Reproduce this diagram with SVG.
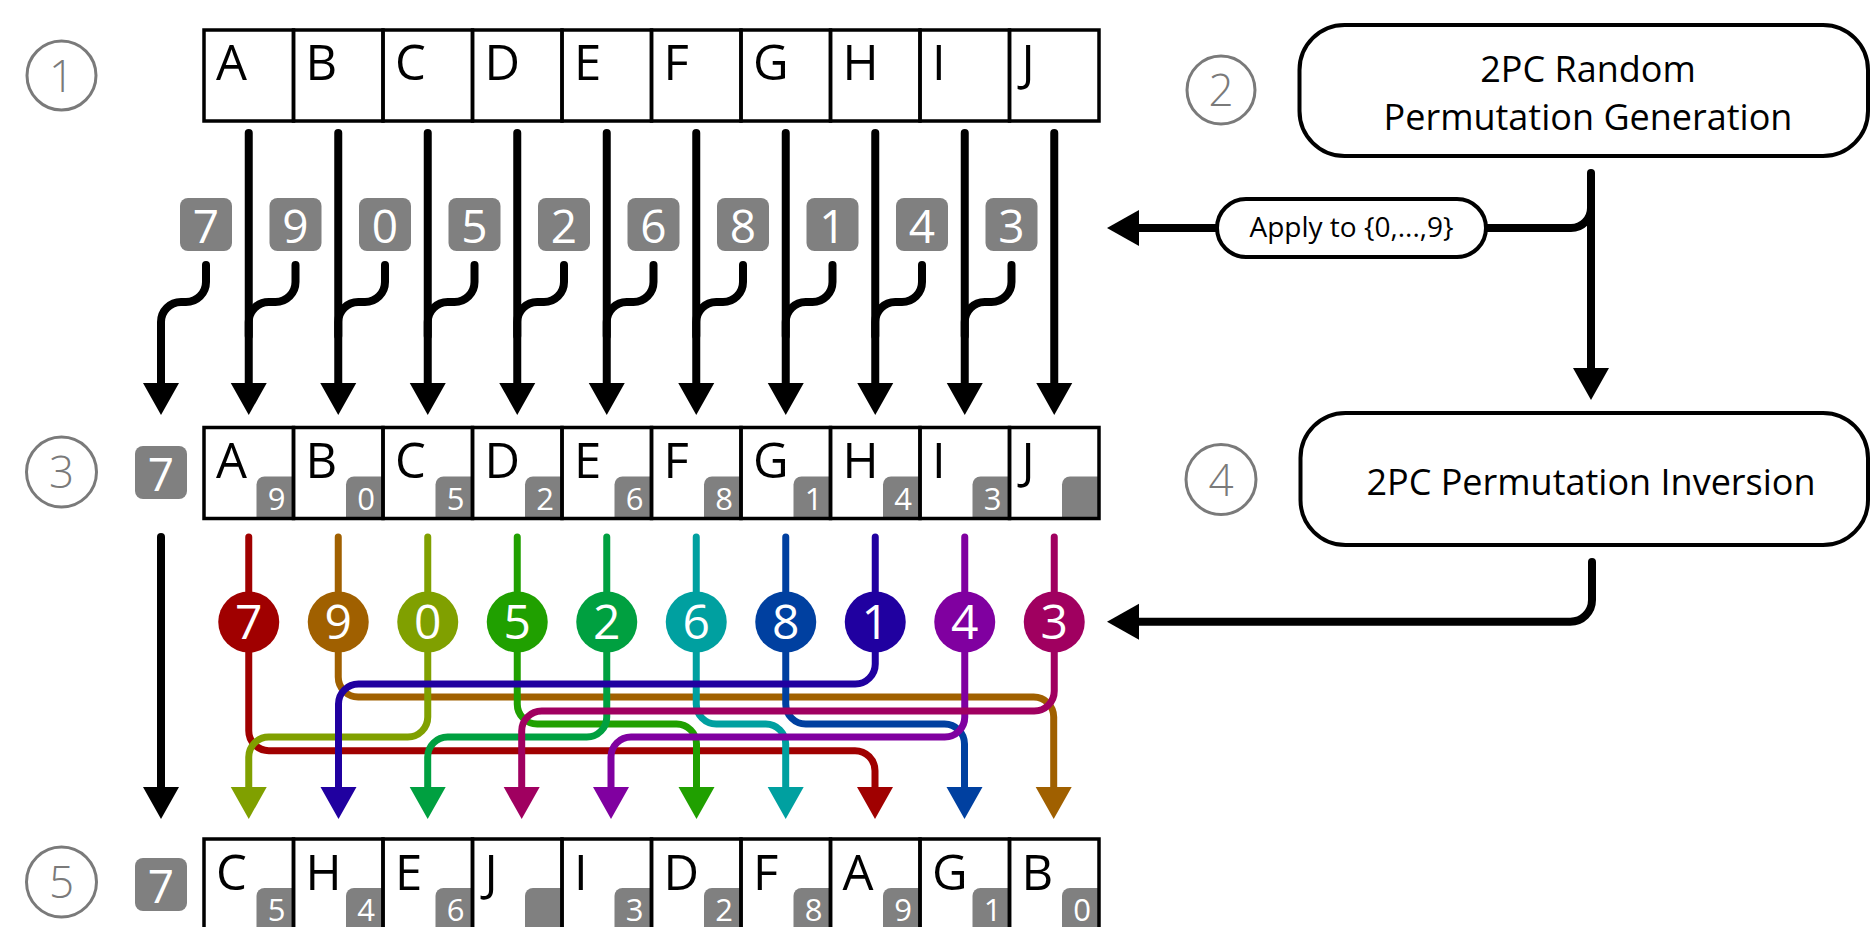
<svg xmlns="http://www.w3.org/2000/svg" width="1872" height="927" viewBox="0 0 1872 927">
<style>
text{font-family:"Open Sans","Liberation Sans",sans-serif}
.cell{fill:none;stroke:#000;stroke-width:3.5}
.let{font-size:49px;fill:#000}
.sb{fill:#808080}
.sbt{font-size:31px;fill:#fff;text-anchor:middle}
.bd{fill:#808080}
.bdt{font-size:46px;fill:#fff;text-anchor:middle}
.num{fill:none;stroke:#7a7a7a;stroke-width:3}
.numt{font-size:44px;fill:#7a7a7a;text-anchor:middle;font-weight:300}
.blk{fill:none;stroke:#000;stroke-width:8;stroke-linecap:round}
.col{fill:none;stroke-width:7;stroke-linecap:round;stroke-linejoin:round}
.ct{font-size:48px;fill:#fff;text-anchor:middle}
.box{fill:#fff;stroke:#000;stroke-width:4}
.bt{font-size:36px;fill:#000;text-anchor:middle}
</style>
<defs>
<marker id="mk" markerUnits="userSpaceOnUse" markerWidth="33" markerHeight="37" viewBox="0 0 33 37" refX="1" refY="18.5" orient="auto"><path d="M0 0.5L32 18.5L0 36.5Z" fill="#000"/></marker>
<marker id="m0" markerUnits="userSpaceOnUse" markerWidth="33" markerHeight="37" viewBox="0 0 33 37" refX="1" refY="18.5" orient="auto"><path d="M0 0.5L32 18.5L0 36.5Z" fill="#a00000"/></marker>
<marker id="m1" markerUnits="userSpaceOnUse" markerWidth="33" markerHeight="37" viewBox="0 0 33 37" refX="1" refY="18.5" orient="auto"><path d="M0 0.5L32 18.5L0 36.5Z" fill="#a06000"/></marker>
<marker id="m2" markerUnits="userSpaceOnUse" markerWidth="33" markerHeight="37" viewBox="0 0 33 37" refX="1" refY="18.5" orient="auto"><path d="M0 0.5L32 18.5L0 36.5Z" fill="#80a000"/></marker>
<marker id="m3" markerUnits="userSpaceOnUse" markerWidth="33" markerHeight="37" viewBox="0 0 33 37" refX="1" refY="18.5" orient="auto"><path d="M0 0.5L32 18.5L0 36.5Z" fill="#20a000"/></marker>
<marker id="m4" markerUnits="userSpaceOnUse" markerWidth="33" markerHeight="37" viewBox="0 0 33 37" refX="1" refY="18.5" orient="auto"><path d="M0 0.5L32 18.5L0 36.5Z" fill="#00a040"/></marker>
<marker id="m5" markerUnits="userSpaceOnUse" markerWidth="33" markerHeight="37" viewBox="0 0 33 37" refX="1" refY="18.5" orient="auto"><path d="M0 0.5L32 18.5L0 36.5Z" fill="#00a0a0"/></marker>
<marker id="m6" markerUnits="userSpaceOnUse" markerWidth="33" markerHeight="37" viewBox="0 0 33 37" refX="1" refY="18.5" orient="auto"><path d="M0 0.5L32 18.5L0 36.5Z" fill="#0040a0"/></marker>
<marker id="m7" markerUnits="userSpaceOnUse" markerWidth="33" markerHeight="37" viewBox="0 0 33 37" refX="1" refY="18.5" orient="auto"><path d="M0 0.5L32 18.5L0 36.5Z" fill="#2000a0"/></marker>
<marker id="m8" markerUnits="userSpaceOnUse" markerWidth="33" markerHeight="37" viewBox="0 0 33 37" refX="1" refY="18.5" orient="auto"><path d="M0 0.5L32 18.5L0 36.5Z" fill="#8000a0"/></marker>
<marker id="m9" markerUnits="userSpaceOnUse" markerWidth="33" markerHeight="37" viewBox="0 0 33 37" refX="1" refY="18.5" orient="auto"><path d="M0 0.5L32 18.5L0 36.5Z" fill="#a00060"/></marker>
</defs>
<rect width="1872" height="927" fill="#fff"/>

<!-- step numbers -->
<g id="step1"><circle class="num" cx="61.5" cy="75.5" r="34.5"/><text class="numt" x="61.5" y="91.5">1</text></g>
<g id="step2"><circle class="num" cx="1221" cy="90" r="34"/><text class="numt" x="1221" y="106">2</text></g>
<g id="step3"><circle class="num" cx="61.5" cy="472" r="35"/><text class="numt" x="61.5" y="488">3</text></g>
<g id="step4"><circle class="num" cx="1221" cy="479.5" r="35"/><text class="numt" x="1221" y="495.5">4</text></g>
<g id="step5"><circle class="num" cx="61.5" cy="882" r="35"/><text class="numt" x="61.5" y="898">5</text></g>

<!-- connectors -->
<g id="connectors">
<g id="top-lines">
<path class="blk" d="M248.75 133V384" marker-end="url(#mk)"/>
<path class="blk" d="M338.25 133V384" marker-end="url(#mk)"/>
<path class="blk" d="M427.75 133V384" marker-end="url(#mk)"/>
<path class="blk" d="M517.25 133V384" marker-end="url(#mk)"/>
<path class="blk" d="M606.75 133V384" marker-end="url(#mk)"/>
<path class="blk" d="M696.25 133V384" marker-end="url(#mk)"/>
<path class="blk" d="M785.75 133V384" marker-end="url(#mk)"/>
<path class="blk" d="M875.25 133V384" marker-end="url(#mk)"/>
<path class="blk" d="M964.75 133V384" marker-end="url(#mk)"/>
<path class="blk" d="M1054.25 133V384" marker-end="url(#mk)"/>
</g>
<g id="badge-links">
<path class="blk" d="M206 265V282A20 20 0 0 1 186 302H181A20 20 0 0 0 161 322V384" marker-end="url(#mk)"/>
<path class="blk" d="M295.5 265V282A20 20 0 0 1 275.5 302H268.75A20 20 0 0 0 248.75 322V336"/>
<path class="blk" d="M385 265V282A20 20 0 0 1 365 302H358.25A20 20 0 0 0 338.25 322V336"/>
<path class="blk" d="M474.5 265V282A20 20 0 0 1 454.5 302H447.75A20 20 0 0 0 427.75 322V336"/>
<path class="blk" d="M564 265V282A20 20 0 0 1 544 302H537.25A20 20 0 0 0 517.25 322V336"/>
<path class="blk" d="M653.5 265V282A20 20 0 0 1 633.5 302H626.75A20 20 0 0 0 606.75 322V336"/>
<path class="blk" d="M743 265V282A20 20 0 0 1 723 302H716.25A20 20 0 0 0 696.25 322V336"/>
<path class="blk" d="M832.5 265V282A20 20 0 0 1 812.5 302H805.75A20 20 0 0 0 785.75 322V336"/>
<path class="blk" d="M922 265V282A20 20 0 0 1 902 302H895.25A20 20 0 0 0 875.25 322V336"/>
<path class="blk" d="M1011.5 265V282A20 20 0 0 1 991.5 302H984.75A20 20 0 0 0 964.75 322V336"/>
</g>
<path id="left-line" class="blk" d="M161 537V788" marker-end="url(#mk)"/>
<g id="perm-lines">
<path class="col" stroke="#a00000" d="M248.75 537V730.7A20 20 0 0 0 268.75 750.7H855A20 20 0 0 1 875 770.7V788" marker-end="url(#m0)"/>
<path class="col" stroke="#a06000" d="M338.25 537V677A20 20 0 0 0 358.25 697H1033.7A20 20 0 0 1 1053.7 717V788" marker-end="url(#m1)"/>
<path class="col" stroke="#80a000" d="M427.75 537V717A20 20 0 0 1 407.75 737H268.75A20 20 0 0 0 248.75 757V788" marker-end="url(#m2)"/>
<path class="col" stroke="#20a000" d="M517.25 537V704A20 20 0 0 0 537.25 724H676.5A20 20 0 0 1 696.5 744V788" marker-end="url(#m3)"/>
<path class="col" stroke="#00a040" d="M606.75 537V717A20 20 0 0 1 586.75 737H447.7A20 20 0 0 0 427.7 757V788" marker-end="url(#m4)"/>
<path class="col" stroke="#00a0a0" d="M696.25 537V704A20 20 0 0 0 716.25 724H765.7A20 20 0 0 1 785.7 744V788" marker-end="url(#m5)"/>
<path class="col" stroke="#0040a0" d="M785.75 537V704A20 20 0 0 0 805.75 724H944.5A20 20 0 0 1 964.5 744V788" marker-end="url(#m6)"/>
<path class="col" stroke="#2000a0" d="M875.25 537V664A20 20 0 0 1 855.25 684H358.5A20 20 0 0 0 338.5 704V788" marker-end="url(#m7)"/>
<path class="col" stroke="#8000a0" d="M964.75 537V717A20 20 0 0 1 944.75 737H631A20 20 0 0 0 611 757V788" marker-end="url(#m8)"/>
<path class="col" stroke="#a00060" d="M1054.25 537V691A20 20 0 0 1 1034.25 711H541.7A20 20 0 0 0 521.7 731V788" marker-end="url(#m9)"/>
</g>
<g id="right-links">
<path class="blk" d="M1591 173V369" marker-end="url(#mk)"/>
<path class="blk" d="M1591 190V208A20 20 0 0 1 1571 228H1486"/>
<path class="blk" d="M1217 228H1138" marker-end="url(#mk)"/>
<path class="blk" d="M1592 562V600A21.7 21.7 0 0 1 1570.3 621.7H1138" marker-end="url(#mk)"/>
</g>
</g>

<!-- colored label circles -->
<g id="perm-circles">
<g id="pc-A"><circle cx="248.75" cy="622" r="30.5" fill="#a00000"/><text class="ct" x="248.75" y="639">7</text></g>
<g id="pc-B"><circle cx="338.25" cy="622" r="30.5" fill="#a06000"/><text class="ct" x="338.25" y="639">9</text></g>
<g id="pc-C"><circle cx="427.75" cy="622" r="30.5" fill="#80a000"/><text class="ct" x="427.75" y="639">0</text></g>
<g id="pc-D"><circle cx="517.25" cy="622" r="30.5" fill="#20a000"/><text class="ct" x="517.25" y="639">5</text></g>
<g id="pc-E"><circle cx="606.75" cy="622" r="30.5" fill="#00a040"/><text class="ct" x="606.75" y="639">2</text></g>
<g id="pc-F"><circle cx="696.25" cy="622" r="30.5" fill="#00a0a0"/><text class="ct" x="696.25" y="639">6</text></g>
<g id="pc-G"><circle cx="785.75" cy="622" r="30.5" fill="#0040a0"/><text class="ct" x="785.75" y="639">8</text></g>
<g id="pc-H"><circle cx="875.25" cy="622" r="30.5" fill="#2000a0"/><text class="ct" x="875.25" y="639">1</text></g>
<g id="pc-I"><circle cx="964.75" cy="622" r="30.5" fill="#8000a0"/><text class="ct" x="964.75" y="639">4</text></g>
<g id="pc-J"><circle cx="1054.25" cy="622" r="30.5" fill="#a00060"/><text class="ct" x="1054.25" y="639">3</text></g>
</g>

<!-- top badges -->
<g id="top-badges">
<g id="tb0"><rect class="bd" x="180" y="198" width="52" height="53" rx="8"/><text class="bdt" x="206" y="242.5">7</text></g>
<g id="tb1"><rect class="bd" x="269.5" y="198" width="52" height="53" rx="8"/><text class="bdt" x="295.5" y="242.5">9</text></g>
<g id="tb2"><rect class="bd" x="359" y="198" width="52" height="53" rx="8"/><text class="bdt" x="385" y="242.5">0</text></g>
<g id="tb3"><rect class="bd" x="448.5" y="198" width="52" height="53" rx="8"/><text class="bdt" x="474.5" y="242.5">5</text></g>
<g id="tb4"><rect class="bd" x="538" y="198" width="52" height="53" rx="8"/><text class="bdt" x="564" y="242.5">2</text></g>
<g id="tb5"><rect class="bd" x="627.5" y="198" width="52" height="53" rx="8"/><text class="bdt" x="653.5" y="242.5">6</text></g>
<g id="tb6"><rect class="bd" x="717" y="198" width="52" height="53" rx="8"/><text class="bdt" x="743" y="242.5">8</text></g>
<g id="tb7"><rect class="bd" x="806.5" y="198" width="52" height="53" rx="8"/><text class="bdt" x="832.5" y="242.5">1</text></g>
<g id="tb8"><rect class="bd" x="896" y="198" width="52" height="53" rx="8"/><text class="bdt" x="922" y="242.5">4</text></g>
<g id="tb9"><rect class="bd" x="985.5" y="198" width="52" height="53" rx="8"/><text class="bdt" x="1011.5" y="242.5">3</text></g>
</g>
<g id="row3-badge"><rect class="bd" x="135" y="446" width="52" height="53" rx="8"/><text class="bdt" x="161" y="490.5">7</text></g>
<g id="row5-badge"><rect class="bd" x="135" y="858" width="52" height="53" rx="8"/><text class="bdt" x="161" y="902.5">7</text></g>

<!-- row 1 -->
<g id="row1">
<g id="r1-A"><rect class="cell" x="204" y="30" width="89.5" height="91"/><text class="let" x="216" y="80">A</text></g>
<g id="r1-B"><rect class="cell" x="293.5" y="30" width="89.5" height="91"/><text class="let" x="305.5" y="80">B</text></g>
<g id="r1-C"><rect class="cell" x="383" y="30" width="89.5" height="91"/><text class="let" x="395" y="80">C</text></g>
<g id="r1-D"><rect class="cell" x="472.5" y="30" width="89.5" height="91"/><text class="let" x="484.5" y="80">D</text></g>
<g id="r1-E"><rect class="cell" x="562" y="30" width="89.5" height="91"/><text class="let" x="574" y="80">E</text></g>
<g id="r1-F"><rect class="cell" x="651.5" y="30" width="89.5" height="91"/><text class="let" x="663.5" y="80">F</text></g>
<g id="r1-G"><rect class="cell" x="741" y="30" width="89.5" height="91"/><text class="let" x="753" y="80">G</text></g>
<g id="r1-H"><rect class="cell" x="830.5" y="30" width="89.5" height="91"/><text class="let" x="842.5" y="80">H</text></g>
<g id="r1-I"><rect class="cell" x="920" y="30" width="89.5" height="91"/><text class="let" x="932" y="80">I</text></g>
<g id="r1-J"><rect class="cell" x="1009.5" y="30" width="89.5" height="91"/><text class="let" x="1021.5" y="80">J</text></g>
</g>

<!-- row 3 -->
<g id="row3">
<g id="r3-A"><path class="sb" d="M256.5 484.5A8 8 0 0 1 264.5 476.5H293.5V518.5H256.5Z"/><text class="sbt" x="276.5" y="509.5">9</text><rect class="cell" x="204" y="427.5" width="89.5" height="91"/><text class="let" x="216" y="477.5">A</text></g>
<g id="r3-B"><path class="sb" d="M346 484.5A8 8 0 0 1 354 476.5H383V518.5H346Z"/><text class="sbt" x="366" y="509.5">0</text><rect class="cell" x="293.5" y="427.5" width="89.5" height="91"/><text class="let" x="305.5" y="477.5">B</text></g>
<g id="r3-C"><path class="sb" d="M435.5 484.5A8 8 0 0 1 443.5 476.5H472.5V518.5H435.5Z"/><text class="sbt" x="455.5" y="509.5">5</text><rect class="cell" x="383" y="427.5" width="89.5" height="91"/><text class="let" x="395" y="477.5">C</text></g>
<g id="r3-D"><path class="sb" d="M525 484.5A8 8 0 0 1 533 476.5H562V518.5H525Z"/><text class="sbt" x="545" y="509.5">2</text><rect class="cell" x="472.5" y="427.5" width="89.5" height="91"/><text class="let" x="484.5" y="477.5">D</text></g>
<g id="r3-E"><path class="sb" d="M614.5 484.5A8 8 0 0 1 622.5 476.5H651.5V518.5H614.5Z"/><text class="sbt" x="634.5" y="509.5">6</text><rect class="cell" x="562" y="427.5" width="89.5" height="91"/><text class="let" x="574" y="477.5">E</text></g>
<g id="r3-F"><path class="sb" d="M704 484.5A8 8 0 0 1 712 476.5H741V518.5H704Z"/><text class="sbt" x="724" y="509.5">8</text><rect class="cell" x="651.5" y="427.5" width="89.5" height="91"/><text class="let" x="663.5" y="477.5">F</text></g>
<g id="r3-G"><path class="sb" d="M793.5 484.5A8 8 0 0 1 801.5 476.5H830.5V518.5H793.5Z"/><text class="sbt" x="813.5" y="509.5">1</text><rect class="cell" x="741" y="427.5" width="89.5" height="91"/><text class="let" x="753" y="477.5">G</text></g>
<g id="r3-H"><path class="sb" d="M883 484.5A8 8 0 0 1 891 476.5H920V518.5H883Z"/><text class="sbt" x="903" y="509.5">4</text><rect class="cell" x="830.5" y="427.5" width="89.5" height="91"/><text class="let" x="842.5" y="477.5">H</text></g>
<g id="r3-I"><path class="sb" d="M972.5 484.5A8 8 0 0 1 980.5 476.5H1009.5V518.5H972.5Z"/><text class="sbt" x="992.5" y="509.5">3</text><rect class="cell" x="920" y="427.5" width="89.5" height="91"/><text class="let" x="932" y="477.5">I</text></g>
<g id="r3-J"><path class="sb" d="M1062 484.5A8 8 0 0 1 1070 476.5H1099V518.5H1062Z"/><rect class="cell" x="1009.5" y="427.5" width="89.5" height="91"/><text class="let" x="1021.5" y="477.5">J</text></g>
</g>

<!-- row 5 -->
<g id="row5">
<g id="r5-0"><path class="sb" d="M256.5 896A8 8 0 0 1 264.5 888H293.5V930H256.5Z"/><text class="sbt" x="276.5" y="921">5</text><rect class="cell" x="204" y="839" width="89.5" height="91"/><text class="let" x="216" y="890">C</text></g>
<g id="r5-1"><path class="sb" d="M346 896A8 8 0 0 1 354 888H383V930H346Z"/><text class="sbt" x="366" y="921">4</text><rect class="cell" x="293.5" y="839" width="89.5" height="91"/><text class="let" x="305.5" y="890">H</text></g>
<g id="r5-2"><path class="sb" d="M435.5 896A8 8 0 0 1 443.5 888H472.5V930H435.5Z"/><text class="sbt" x="455.5" y="921">6</text><rect class="cell" x="383" y="839" width="89.5" height="91"/><text class="let" x="395" y="890">E</text></g>
<g id="r5-3"><path class="sb" d="M525 896A8 8 0 0 1 533 888H562V930H525Z"/><rect class="cell" x="472.5" y="839" width="89.5" height="91"/><text class="let" x="484.5" y="890">J</text></g>
<g id="r5-4"><path class="sb" d="M614.5 896A8 8 0 0 1 622.5 888H651.5V930H614.5Z"/><text class="sbt" x="634.5" y="921">3</text><rect class="cell" x="562" y="839" width="89.5" height="91"/><text class="let" x="574" y="890">I</text></g>
<g id="r5-5"><path class="sb" d="M704 896A8 8 0 0 1 712 888H741V930H704Z"/><text class="sbt" x="724" y="921">2</text><rect class="cell" x="651.5" y="839" width="89.5" height="91"/><text class="let" x="663.5" y="890">D</text></g>
<g id="r5-6"><path class="sb" d="M793.5 896A8 8 0 0 1 801.5 888H830.5V930H793.5Z"/><text class="sbt" x="813.5" y="921">8</text><rect class="cell" x="741" y="839" width="89.5" height="91"/><text class="let" x="753" y="890">F</text></g>
<g id="r5-7"><path class="sb" d="M883 896A8 8 0 0 1 891 888H920V930H883Z"/><text class="sbt" x="903" y="921">9</text><rect class="cell" x="830.5" y="839" width="89.5" height="91"/><text class="let" x="842.5" y="890">A</text></g>
<g id="r5-8"><path class="sb" d="M972.5 896A8 8 0 0 1 980.5 888H1009.5V930H972.5Z"/><text class="sbt" x="992.5" y="921">1</text><rect class="cell" x="920" y="839" width="89.5" height="91"/><text class="let" x="932" y="890">G</text></g>
<g id="r5-9"><path class="sb" d="M1062 896A8 8 0 0 1 1070 888H1099V930H1062Z"/><text class="sbt" x="1082" y="921">0</text><rect class="cell" x="1009.5" y="839" width="89.5" height="91"/><text class="let" x="1021.5" y="890">B</text></g>
</g>

<!-- right side boxes -->
<g id="gen-box"><rect class="box" x="1299.5" y="25" width="568.5" height="131" rx="45"/><text class="bt" x="1588" y="82">2PC Random</text><text class="bt" x="1588" y="130">Permutation Generation</text></g>
<g id="inv-box"><rect class="box" x="1300.5" y="413" width="567.5" height="132" rx="45"/><text class="bt" x="1591" y="495">2PC Permutation Inversion</text></g>
<g id="apply-pill"><rect class="box" x="1217" y="199" width="269" height="58" rx="29" stroke-width="3.5"/><text x="1351.5" y="237" font-size="28" text-anchor="middle" fill="#000">Apply to {0,...,9}</text></g>
</svg>
